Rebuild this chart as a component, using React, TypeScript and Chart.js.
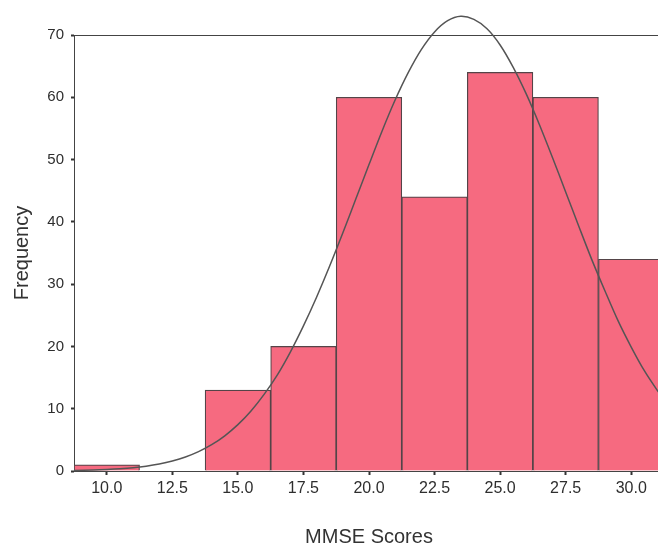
import React, { useEffect, useRef } from "react";
import { Chart, registerables } from "chart.js";

Chart.register(...registerables);

// Histogram bins (bin centres) and frequencies
const binCenters = [10, 12.5, 15, 17.5, 20, 22.5, 25, 27.5, 30];
const frequencies = [1, 0, 13, 20, 60, 44, 64, 60, 34];

// Fitted normal curve
const curveX = [8.75, 9.5, 10, 10.5, 11, 11.5, 12, 12.5, 13, 13.5, 14, 14.5, 15, 15.5, 16, 16.5, 17, 17.5, 18, 18.5, 19, 19.5, 20, 20.5, 21, 21.5, 22, 22.5, 23, 23.5, 24, 24.5, 25, 25.5, 26, 26.5, 27, 27.5, 28, 28.5, 29, 29.5, 30, 30.5, 31, 31.25];
const curveY = [0.08, 0.15, 0.24, 0.36, 0.53, 0.78, 1.13, 1.61, 2.25, 3.11, 4.22, 5.65, 7.44, 9.64, 12.3, 15.4, 19.1, 23.3, 27.9, 32.9, 38.2, 43.7, 49.2, 54.6, 59.6, 64.0, 67.7, 70.5, 72.3, 73.0, 72.5, 71.0, 68.4, 64.8, 60.5, 55.6, 50.3, 44.8, 39.3, 33.9, 28.9, 24.1, 19.9, 16.1, 12.9, 11.5];

const xTicks = [10, 12.5, 15, 17.5, 20, 22.5, 25, 27.5, 30];
const yTicks = [0, 10, 20, 30, 40, 50, 60, 70];

const xTitle = "MMSE Scores";
const yTitle = "Frequency";

const FONT = "'Liberation Sans', Arial, sans-serif";

const framePlugin = {
  id: "frame",
  beforeDatasetsDraw(chart: any) {
    const { ctx, chartArea } = chart;
    ctx.save();
    ctx.strokeStyle = "#444";
    ctx.lineWidth = 1;
    ctx.strokeRect(chartArea.left + 0.5, chartArea.top + 0.5, chartArea.right - chartArea.left, chartArea.bottom - chartArea.top);
    ctx.restore();
  },
};

export default function App() {
  const ref = useRef<HTMLCanvasElement>(null);
  useEffect(() => {
    if (!ref.current) return;
    const chart = new Chart(ref.current, {
      type: "bar",
      data: {
        datasets: [
          {
            type: "line",
            data: curveX.map((x, i) => ({ x, y: curveY[i] })),
            borderColor: "#555",
            borderWidth: 1.5,
            pointRadius: 0,
            tension: 0.3,
            fill: false,
            clip: false,
            order: 0,
          } as any,
          {
            type: "bar",
            data: binCenters.map((x, i) => ({ x, y: frequencies[i] })),
            backgroundColor: "#F66A80",
            borderColor: "#544448",
            borderWidth: 1.2,
            barPercentage: 1,
            categoryPercentage: 1,
            order: 1,
          } as any,
        ],
      },
      options: {
        responsive: false,
        animation: false,
        devicePixelRatio: 1,
        layout: { padding: { left: 0, top: 35, right: 12, bottom: 0 } },
        plugins: { legend: { display: false }, tooltip: { enabled: false } },
        scales: {
          x: {
            type: "linear",
            min: 8.75,
            max: 31.25,
            offset: false,
            afterFit: (s: any) => { s.height = 78; },
            afterBuildTicks: (s: any) => { s.ticks = xTicks.map((v) => ({ value: v })); },
            ticks: {
              callback: (v: any) => Number(v).toFixed(1),
              color: "#2e2e2e",
              font: { family: FONT, size: 16 },
              padding: 4,
              maxRotation: 0,
              autoSkip: false,
            },
            grid: { display: true, offset: false, drawOnChartArea: false, drawTicks: true, tickLength: 4, tickWidth: 2, tickColor: "#333" },
            border: { display: true, color: "#444", width: 1 },
            title: {
              display: true,
              text: xTitle,
              color: "#333",
              font: { family: FONT, size: 20 },
              padding: { top: 0, bottom: 0 },
            },
          },
          y: {
            type: "linear",
            min: 0,
            max: 70,
            afterFit: (s: any) => { s.width = 74; },
            afterBuildTicks: (s: any) => { s.ticks = yTicks.map((v) => ({ value: v })); },
            ticks: {
              color: "#2e2e2e",
              font: { family: FONT, size: 15 },
              padding: 7,
            },
            grid: { display: true, offset: false, drawOnChartArea: false, drawTicks: true, tickLength: 3, tickWidth: 2, tickColor: "#333" },
            border: { display: true, color: "#444", width: 1 },
            title: {
              display: true,
              text: yTitle,
              color: "#333",
              font: { family: FONT, size: 20 },
              padding: { top: 10, bottom: 0 },
            },
          },
        },
      },
      plugins: [framePlugin],
    });
    return () => chart.destroy();
  }, []);
  return (
    <div style={{ position: "fixed", left: 0, top: 0, width: 658, height: 545, overflow: "hidden", background: "#fff" }}>
      <canvas ref={ref} width={676} height={549} style={{ display: "block", width: 676, height: 549 }} />
    </div>
  );
}
